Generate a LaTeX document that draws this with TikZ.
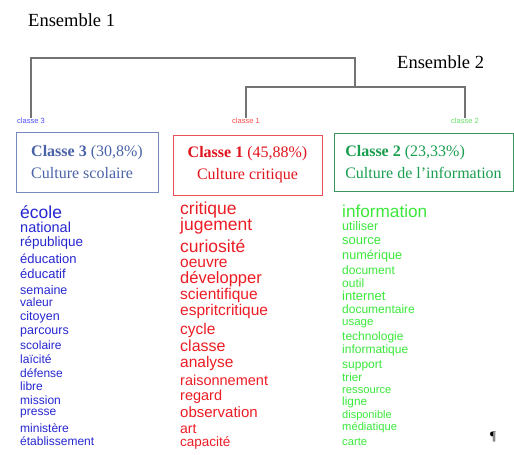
\documentclass[tikz,border=0pt]{standalone}
\usepackage{fontspec}
\setmainfont{Liberation Serif}
\newfontfamily\wordfont{Liberation Sans}
\usetikzlibrary{positioning}

\definecolor{clblue}{HTML}{4A63A8}
\definecolor{clred}{HTML}{E0141E}
\definecolor{clgreen}{HTML}{1A9E50}
\definecolor{wblue}{HTML}{2626D0}
\definecolor{wred}{HTML}{EC1C24}
\definecolor{wgreen}{HTML}{3AE83A}

\begin{document}
\begin{tikzpicture}[x=1pt,y=-1pt,
  tree/.style={draw=black!55,line width=1.3pt},
  ens/.style={anchor=west,inner sep=0,font=\fontsize{18.5}{20}\selectfont},
  lab/.style={inner sep=0,font=\wordfont\fontsize{7.5}{8}\selectfont},
  classbox/.style={draw,line width=0.8pt,minimum height=60,inner sep=0,font=\fontsize{16}{22}\selectfont},
  word/.style={anchor=mid west,inner sep=0}]
		\useasboundingbox (0,0) rectangle (514,455);

		% ensembles
		\node[ens] (e1) at (28,20) {Ensemble 1};
		\node[ens] (e2) at (397,62) {Ensemble 2};

		% dendrogram
		\node[lab,text=blue!70] (c3) at (31,121) {classe 3};
		\node[lab,text=red!70] (c1) at (246,121) {classe 1};
		\node[lab,text=green!80!black!60] (c2) at (465,121) {classe 2};
		\coordinate (root) at (355,58);
		\coordinate (j12) at (355,87);
		\draw[tree] (c1.north) |- (j12) -| (c2.north);
		\draw[tree] (c3.north) |- (root) -- (j12);

		% class boxes
		\node[classbox,draw=clblue!75,text=clblue,minimum width=142,align=left] (k3) at (87,162)
			{\textbf{Classe 3} (30,8\%)\\Culture scolaire};
		\node[classbox,draw=clred!75,text=clred,minimum width=149,align=center] (k1) at (247.5,165)
			{\textbf{Classe 1} (45,88\%)\\Culture critique};
		\node[classbox,draw=clgreen!70!gray,text=clgreen,minimum width=179,minimum height=58,align=left] (k2) at (423.5,162)
			{\textbf{Classe 2} (23,33\%)\\Culture de l'information};

		% words of classe 3
		\foreach \w/\s/\y [count=\i] in {école/17.5/216,national/14.5/230,république/13.5/244,éducation/13/261,
			éducatif/13/276,semaine/12.5/292,valeur/12/304,citoyen/12.5/318,parcours/12.5/332,scolaire/12/347,
			laïcité/12/361,défense/12/375,libre/12/388,mission/12/402,presse/12/413,ministère/12/430,établissement/12/443}
			\node[word,text=wblue,font=\wordfont\fontsize{\s}{\s}\selectfont] (b\i) at (20,\y) {\w};

		% words of classe 1
		\foreach \w/\s/\y [count=\i] in {critique/17.5/212,jugement/17.5/228,curiosité/17.5/250,oeuvre/15.5/265,
			développer/16.5/281,scientifique/15.5/297,espritcritique/15.5/313,cycle/15.5/332,classe/16/349,
			analyse/15.5/365,raisonnement/14.5/383,regard/14.5/398,observation/15/415,art/14/431,capacité/13.5/444}
			\node[word,text=wred,font=\wordfont\fontsize{\s}{\s}\selectfont] (r\i) at (180,\y) {\w};

		% words of classe 2
		\foreach \w/\s/\y [count=\i] in {information/17.2/215,utiliser/12.5/228,source/13/242,numérique/12.7/257,
			document/12/272,outil/12/285,internet/13/298,documentaire/12/311,usage/11.5/323,technologie/12/338,
			informatique/12/351,support/12/366,trier/11.6/379,ressource/11.2/391,ligne/11.8/403,disponible/11/416,
			médiatique/11.2/428,carte/11.2/443}
			\node[word,text=wgreen,font=\wordfont\fontsize{\s}{\s}\selectfont] (g\i) at (342,\y) {\w};

		\node[inner sep=0,font=\fontsize{13}{13}\selectfont] (pil) at (493,437) {¶};
		\end{tikzpicture}
\end{document}
